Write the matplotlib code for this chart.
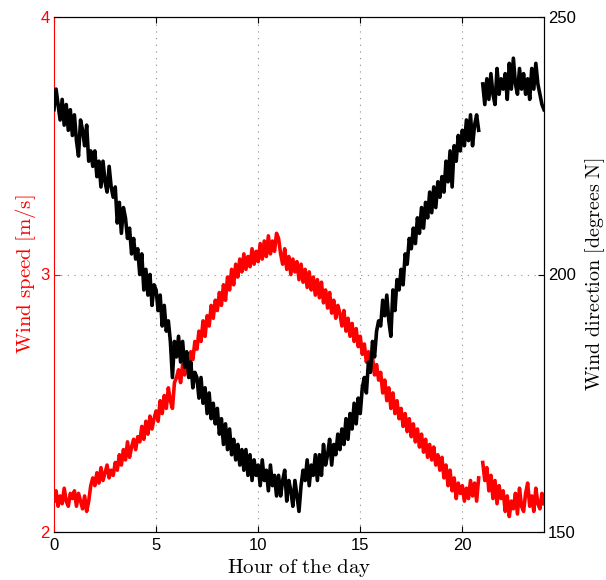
import numpy as np
import matplotlib.pyplot as plt

plt.rcParams['mathtext.fontset'] = 'cm'
plt.rcParams['font.family'] = ['Liberation Sans', 'DejaVu Sans']

# hour of the day, 0.1 h steps
hours = np.round(np.arange(0, 24.01, 0.1), 1)

# wind speed [m/s], one row per hour
speed = [
    2.12, 2.16, 2.10, 2.14, 2.11, 2.17, 2.12, 2.10, 2.15, 2.13,
    2.16, 2.10, 2.15, 2.12, 2.09, 2.14, 2.08, 2.12, 2.18, 2.21,
    2.18, 2.23, 2.19, 2.25, 2.20, 2.23, 2.26, 2.21, 2.24, 2.22,
    2.27, 2.24, 2.30, 2.26, 2.32, 2.28, 2.35, 2.29, 2.33, 2.36,
    2.32, 2.37, 2.35, 2.41, 2.36, 2.43, 2.38, 2.45, 2.40, 2.44,
    2.47, 2.43, 2.51, 2.46, 2.53, 2.48, 2.56, 2.51, 2.48, 2.58,
    2.60, 2.63, 2.58, 2.65, 2.61, 2.67, 2.63, 2.70, 2.67, 2.74,
    2.71, 2.78, 2.74, 2.82, 2.76, 2.84, 2.80, 2.88, 2.83, 2.90,
    2.86, 2.93, 2.88, 2.96, 2.90, 2.99, 2.94, 3.02, 2.96, 3.04,
    2.99, 3.06, 3.01, 3.08, 3.02, 3.07, 3.03, 3.10, 3.04, 3.09,
    3.05, 3.12, 3.06, 3.13, 3.07, 3.15, 3.08, 3.13, 3.09, 3.16,
    3.14, 3.08, 3.04, 3.10, 3.02, 3.07, 3.00, 3.06, 3.01, 3.05,
    2.98, 3.04, 2.97, 3.02, 2.95, 3.01, 2.94, 2.99, 2.92, 2.98,
    2.91, 2.97, 2.89, 2.94, 2.87, 2.93, 2.85, 2.90, 2.83, 2.88,
    2.85, 2.80, 2.86, 2.78, 2.83, 2.76, 2.81, 2.74, 2.79, 2.72,
    2.76, 2.69, 2.73, 2.66, 2.70, 2.63, 2.68, 2.61, 2.65, 2.59,
    2.62, 2.54, 2.59, 2.51, 2.56, 2.48, 2.54, 2.46, 2.51, 2.44,
    2.48, 2.41, 2.46, 2.39, 2.44, 2.37, 2.42, 2.35, 2.40, 2.33,
    2.38, 2.31, 2.36, 2.29, 2.34, 2.28, 2.33, 2.26, 2.30, 2.24,
    2.29, 2.21, 2.26, 2.18, 2.24, 2.16, 2.21, 2.13, 2.19, 2.15,
    2.18, 2.12, 2.17, 2.13, 2.20, 2.14, 2.19, 2.12, 2.21, np.nan,
    2.27, 2.20, 2.25, 2.16, 2.22, 2.13, 2.20, 2.11, 2.18, 2.13,
    2.16, 2.08, 2.14, 2.06, 2.12, 2.09, 2.15, 2.07, 2.17, 2.10,
    2.08, 2.15, 2.19, 2.10, 2.14, 2.08, 2.17, 2.11, 2.09, 2.15,
    2.11,
]

# wind direction [degrees N], one row per hour
direction = [
    232, 236, 233, 230, 234, 229, 233, 228, 232, 227,
    231, 226, 223, 230, 228, 225, 229, 222, 224, 221,
    224, 219, 222, 217, 222, 218, 216, 221, 217, 215,
    217, 210, 214, 208, 213, 211, 207, 209, 204, 207,
    203, 205, 200, 204, 197, 201, 196, 200, 194, 198,
    197, 193, 196, 190, 194, 189, 191, 187, 180, 187,
    184, 188, 183, 187, 182, 185, 180, 183, 178, 181,
    180, 176, 180, 175, 178, 173, 177, 172, 175, 171,
    174, 169, 172, 167, 171, 166, 170, 165, 168, 164,
    167, 163, 166, 162, 166, 161, 165, 160, 164, 161,
    163, 159, 164, 160, 162, 158, 163, 159, 161, 157,
    161, 157, 160, 162, 156, 160, 158, 155, 160, 157,
    154, 159, 162, 160, 164, 159, 163, 161, 165, 160,
    165, 161, 167, 163, 165, 168, 163, 167, 165, 169,
    166, 170, 167, 172, 168, 173, 170, 175, 171, 176,
    173, 178, 180, 177, 183, 181, 187, 184, 189, 191,
    190, 195, 192, 196, 191, 188, 197, 193, 199, 197,
    201, 198, 204, 202, 207, 205, 209, 206, 211, 208,
    213, 209, 214, 211, 216, 212, 217, 213, 218, 215,
    219, 216, 222, 218, 224, 217, 225, 222, 227, 224,
    228, 225, 230, 226, 231, 225, 229, 231, 228, np.nan,
    237, 233, 238, 234, 239, 235, 233, 240, 235, 238,
    236, 239, 234, 241, 236, 242, 237, 235, 240, 236,
    239, 235, 238, 234, 240, 236, 241, 237, 235, 233,
    232,
]

fig = plt.figure(figsize=(6.06, 5.8), dpi=100)
ax = fig.add_axes([54 / 606, 48 / 580, 490 / 606, 515 / 580])
ax2 = ax.twinx()

ax.plot(hours, speed, color='red', lw=2.6, zorder=3)
ax2.plot(hours, direction, color='black', lw=2.6)

ax.set_xlim(0, 24)
ax.set_ylim(2, 4)
ax2.set_ylim(150, 250)
ax.set_xticks([0, 5, 10, 15, 20])
ax.set_yticks([2, 3, 4])
ax2.set_yticks([150, 200, 250])

ax.tick_params(axis='x', direction='in', length=4, labelsize=12, top=True, pad=4)
ax.tick_params(axis='y', direction='in', length=4, labelsize=12, colors='red', pad=3)
ax2.tick_params(axis='y', direction='in', length=4, labelsize=12, colors='black', pad=3)

ax.xaxis.grid(True, color='#888888', linestyle=(0, (1, 5)), lw=0.8)
ax.yaxis.grid(True, color='#ee6666', linestyle=(0, (1, 5)), lw=0.8)

ax.spines['left'].set_color('red')
ax2.spines['left'].set_visible(False)
for s in ['top', 'bottom', 'right']:
    ax.spines[s].set_color('black')
    ax2.spines[s].set_color('black')

ax.set_xlabel(r'$\mathrm{Hour\ of\ the\ day}$', fontsize=15, labelpad=3)
ax.set_ylabel(r'$\mathrm{Wind\ speed\ [m/s]}$', fontsize=15, color='red', labelpad=2)
ax2.set_ylabel(r'$\mathrm{Wind\ direction\ [degrees\ N]}$', fontsize=14.5, labelpad=5)

fig.savefig('out.png', dpi=100)
